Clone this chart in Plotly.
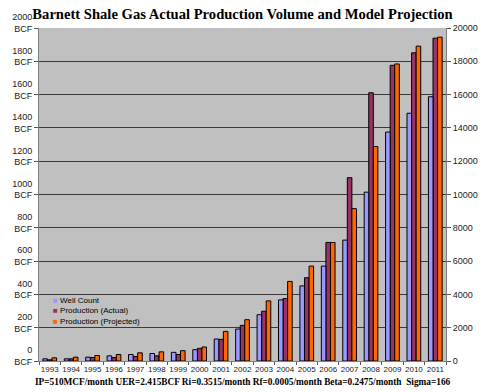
import plotly.graph_objects as go

years = [str(y) for y in range(1993, 2012)]
well_count = [130, 130, 230, 310, 390, 450, 520, 680, 1320, 1920, 2780, 3670, 4510, 5700,
              7260, 10140, 13750, 14880, 15870]
prod_actual = [7, 13, 21, 21, 27, 31, 39, 76, 130, 214, 299, 375, 500, 712, 1101, 1611,
               1776, 1851, 1939]
prod_projected = [19, 23, 33, 39, 49, 55, 62, 84, 178, 248, 361, 478, 570, 712, 915, 1288,
                  1784, 1891, 1945]

series_names = ["Well Count", "Production (Actual)", "Production (Projected)"]
series_colors = ["#9999FF", "#993366", "#FF6600"]

left_ticks = list(range(0, 2001, 200))
left_labels = [f"{v}<br>BCF" for v in left_ticks]
right_ticks = list(range(0, 20001, 2000))
right_labels = [str(v) for v in right_ticks]

title_text = "Barnett Shale Gas Actual Production Volume and Model Projection"
footer_text = ("IP=510MCF/month UER=2.415BCF Ri=0.3515/month Rf=0.0005/month "
               "Beta=0.2475/month&nbsp;&nbsp;Sigma=166")

outline = dict(color="#000000", width=1)
fig = go.Figure()
fig.add_trace(go.Bar(name=series_names[0], x=years, y=well_count, yaxis="y2", offsetgroup="1",
                     marker=dict(color=series_colors[0], line=outline), showlegend=False))
fig.add_trace(go.Bar(name=series_names[1], x=years, y=prod_actual, yaxis="y",
                     offsetgroup="2", marker=dict(color=series_colors[1], line=outline),
                     showlegend=False))
fig.add_trace(go.Bar(name=series_names[2], x=years, y=prod_projected, yaxis="y",
                     offsetgroup="3", marker=dict(color=series_colors[2], line=outline),
                     showlegend=False))

tickfont = dict(family="Liberation Sans, Arial, sans-serif", size=9, color="#222222")
xtickfont = dict(family="Liberation Sans, Arial, sans-serif", size=8, color="#222222")

legend_lines = "<br>".join(
    f"<span style='color:{c}'>■</span><span style='color:#000000'> {n}</span>"
    for n, c in zip(series_names, series_colors))

fig.update_layout(
    width=490, height=392,
    margin=dict(l=38, r=28, t=25, b=31),
    paper_bgcolor="#FFFFFF",
    plot_bgcolor="#C0C0C0",
    barmode="group",
    bargap=0.36,
    bargroupgap=0.0,
    showlegend=False,
    title=dict(text=f"<b>{title_text}</b>", xref="paper", x=0.5, xanchor="center",
               y=0.964, yanchor="middle",
               font=dict(family="Liberation Serif, Times New Roman, serif", size=14.6,
                         color="#000000")),
    xaxis=dict(type="category", tickson="boundaries", ticks="outside", ticklen=3,
               tickcolor="#555555", showline=True, linecolor="#808080", linewidth=1,
               showgrid=False, tickfont=xtickfont, tickangle=0, mirror=False),
    yaxis=dict(range=[0, 2000], tickvals=left_ticks, ticktext=left_labels,
               ticks="outside", ticklen=4, tickcolor="#555555",
               showline=True, linecolor="#808080", linewidth=1,
               showgrid=True, gridcolor="#3A3A3A", gridwidth=1,
               tickfont=tickfont, zeroline=False, ticklabelshift=-5),
    yaxis2=dict(range=[0, 20000], tickvals=right_ticks, ticktext=right_labels,
                overlaying="y", side="right", ticks="outside", ticklen=4,
                tickcolor="#555555", showline=True, linecolor="#808080", linewidth=1,
                showgrid=False, tickfont=tickfont, zeroline=False),
    annotations=[
        dict(text=f"<b>{footer_text}</b>", xref="paper", yref="paper",
             x=0.5, y=-0.064, xanchor="center", yanchor="middle",
             showarrow=False,
             font=dict(family="Liberation Serif, Times New Roman, serif",
                       size=9.3, color="#000000")),
        dict(text=legend_lines, xref="paper", yref="paper", x=0.03, y=0.2,
             xanchor="left", yanchor="top", align="left", showarrow=False,
             font=dict(family="Liberation Sans, Arial, sans-serif", size=8,
                       color="#000000")),
    ],
)

fig.write_html("out.html",
               config={"displayModeBar": False},
               post_script="document.body.style.margin='0';"
                           "document.body.style.overflow='hidden';")
